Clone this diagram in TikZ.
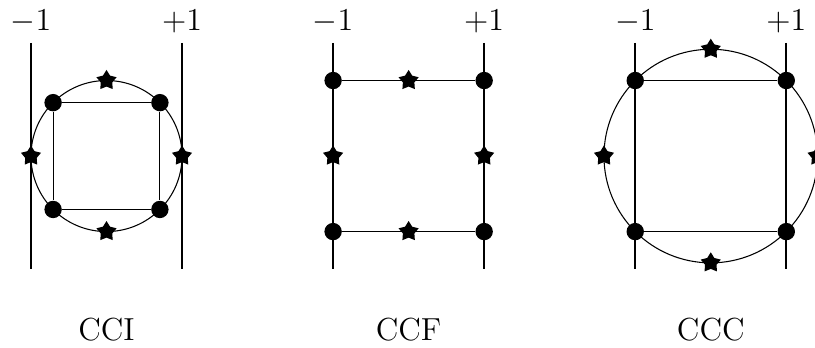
\documentclass[tikz,border=0pt]{standalone}
\usepackage{tikz}
\usetikzlibrary{shapes.geometric}
\tikzset{dot/.style={circle,fill=black,inner sep=0pt,minimum size=2.3mm}}
\tikzset{starpt/.style={star,star points=5,star point ratio=1.75,fill=black,inner sep=0pt,minimum size=2.8mm}}
\tikzset{bar/.style={line width=0.9pt}}
\tikzset{lbl/.style={font=\fontsize{12}{14}\selectfont}}

\begin{document}
\begin{tikzpicture}
  \useasboundingbox (-1.41,-2.53) rectangle (9.38,2.066);
  % CCI
  \coordinate (ia) at (-1,1.5); \coordinate (ib) at (-1,-1.5);
  \coordinate (ic) at (1,1.5);  \coordinate (id) at (1,-1.5);
  \node[dot] (i1) at (-0.707,0.707) {};
  \node[dot] (i2) at (0.707,0.707) {};
  \node[dot] (i3) at (0.707,-0.707) {};
  \node[dot] (i4) at (-0.707,-0.707) {};
  \draw[bar] (ia)--(ib);
  \draw[bar] (ic)--(id);
  \draw (0,0) circle (1);
  \draw (i1)--(i2)--(i3)--(i4)--(i1);
  \node[starpt] (is1) at (0,1) {};
  \node[starpt] (is2) at (1,0) {};
  \node[starpt] (is3) at (0,-1) {};
  \node[starpt] (is4) at (-1,0) {};
  \node[lbl,above] (iam) at (ia) {$-1$};
  \node[lbl,above] (iap) at (ic) {$+1$};
  \node[lbl] (icci) at (0,-2.3) {CCI};
  % CCF
  \coordinate (fa) at (3,1.5); \coordinate (fb) at (3,-1.5);
  \coordinate (fc) at (5,1.5); \coordinate (fd) at (5,-1.5);
  \node[dot] (f1) at (3,1) {};
  \node[dot] (f2) at (5,1) {};
  \node[dot] (f3) at (5,-1) {};
  \node[dot] (f4) at (3,-1) {};
  \draw[bar] (fa)--(fb);
  \draw[bar] (fc)--(fd);
  \draw (f1)--(f2);
  \draw (f4)--(f3);
  \node[starpt] (fs1) at (4,1) {};
  \node[starpt] (fs2) at (5,0) {};
  \node[starpt] (fs3) at (4,-1) {};
  \node[starpt] (fs4) at (3,0) {};
  \node[lbl,above] (fam) at (fa) {$-1$};
  \node[lbl,above] (fap) at (fc) {$+1$};
  \node[lbl] (fccf) at (4,-2.3) {CCF};
  % CCC
  \coordinate (ca) at (7,1.5); \coordinate (cb) at (7,-1.5);
  \coordinate (cc) at (9,1.5); \coordinate (cd) at (9,-1.5);
  \node[dot] (c1) at (7,1) {};
  \node[dot] (c2) at (9,1) {};
  \node[dot] (c3) at (9,-1) {};
  \node[dot] (c4) at (7,-1) {};
  \draw[bar] (ca)--(cb);
  \draw[bar] (cc)--(cd);
  \draw (8,0) circle (1.414);
  \draw (c1)--(c2);
  \draw (c4)--(c3);
  \node[starpt] (cs1) at (8,1.414) {};
  \node[starpt] (cs2) at (9.414,0) {};
  \node[starpt] (cs3) at (8,-1.414) {};
  \node[starpt] (cs4) at (6.586,0) {};
  \node[lbl,above] (cam) at (ca) {$-1$};
  \node[lbl,above] (cap) at (cc) {$+1$};
  \node[lbl] (cccc) at (8,-2.3) {CCC};
\end{tikzpicture}
\end{document}
